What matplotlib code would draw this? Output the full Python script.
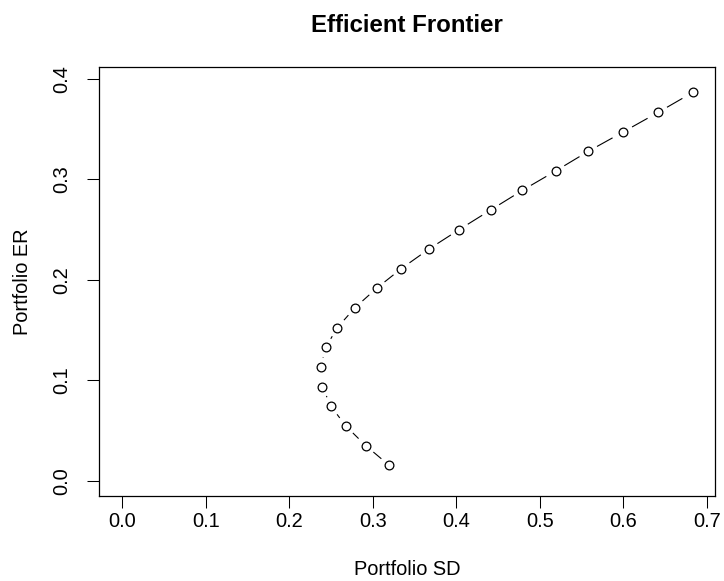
import numpy as np
import matplotlib
matplotlib.use("Agg")
import matplotlib.pyplot as plt

plt.rcParams['font.family'] = ['Liberation Sans', 'DejaVu Sans']

# Data
portfolio_sd = [0.3194, 0.2915, 0.2676, 0.2500, 0.2395, 0.2374, 0.2436, 0.2575,
                0.2787, 0.3047, 0.3342, 0.3673, 0.4036, 0.4412, 0.4791, 0.5191,
                0.5581, 0.6001, 0.6420, 0.6839]
portfolio_er = [0.0154, 0.0349, 0.0545, 0.0740, 0.0934, 0.1129, 0.1327, 0.1524,
                0.1723, 0.1917, 0.2112, 0.2307, 0.2501, 0.2696, 0.2891, 0.3085,
                0.3280, 0.3474, 0.3669, 0.3870]
x_ticks = [0.0, 0.1, 0.2, 0.3, 0.4, 0.5, 0.6, 0.7]
y_ticks = [0.0, 0.1, 0.2, 0.3, 0.4]

W, H = 724, 581
fig = plt.figure(figsize=(W / 100, H / 100), dpi=100)
left, right, top, bottom = 99.3, 715.0, 66.8, 496.0
ax = fig.add_axes([left / W, 1 - bottom / H, (right - left) / W, (bottom - top) / H])

ax.set_xlim(-0.0276, 0.7099)
ax.set_ylim(-0.0153, 0.4122)

# R type="b": dashed segments with gaps around the points
gap = 10.0  # pixels
pts = ax.transData.transform(np.column_stack([portfolio_sd, portfolio_er]))
inv = ax.transData.inverted()
for i in range(len(pts) - 1):
    p0, p1 = pts[i], pts[i + 1]
    d = p1 - p0
    L = np.hypot(*d)
    if L <= 2 * gap:
        continue
    u = d / L
    a = inv.transform(p0 + u * gap)
    b = inv.transform(p1 - u * gap)
    ax.plot([a[0], b[0]], [a[1], b[1]], color='black', lw=0.8,
            linestyle=(0, (16, 14)), solid_capstyle='butt', dash_capstyle='butt')

ax.plot(portfolio_sd, portfolio_er, linestyle='none', marker='o', ms=6.3,
        mfc='none', mec='black', mew=0.9)

ax.set_xticks(x_ticks)
ax.set_xticklabels([f"{v:.1f}" for v in x_ticks])
ax.set_yticks(y_ticks)
ax.set_yticklabels([f"{v:.1f}" for v in y_ticks], rotation=90, va='center')

ax.tick_params(axis='both', direction='out', length=8.6, width=0.75,
               labelsize=14.4, colors='black')
ax.tick_params(axis='x', pad=3)
ax.tick_params(axis='y', pad=11.5)
for s in ax.spines.values():
    s.set_linewidth(0.9)
    s.set_color('black')

ax.set_xlabel('Portfolio SD', fontsize=14.4)
ax.xaxis.set_label_coords(0.5, -0.1724)
ax.xaxis.label.set_va('center')
ax.set_ylabel('Portfolio ER', fontsize=14.4)
ax.yaxis.set_label_coords(-0.1255, 0.5)
ax.yaxis.label.set_va('center')

ax.text(0.5, 1.097, 'Efficient Frontier', transform=ax.transAxes,
        ha='center', va='center', fontsize=17.3, fontweight='bold')

fig.savefig('out.png', dpi=100)
